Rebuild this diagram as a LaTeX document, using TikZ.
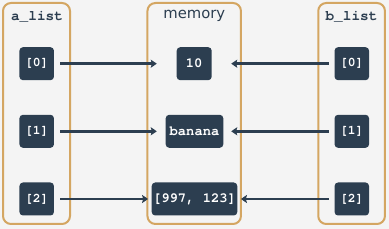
\documentclass[tikz,border=0pt]{standalone}
\usepackage{fontspec}
\setmonofont{TeX Gyre Cursor}
\newfontfamily\labelsans{DejaVu Sans}
\usetikzlibrary{arrows.meta}
\definecolor{bgc}{HTML}{F4F4F4}
\definecolor{slate}{HTML}{2C3E50}
\definecolor{tan}{HTML}{D4A662}
\tikzset{
  frame/.style={draw=tan, line width=2pt, rounded corners=8pt, fill=bgc},
  cell/.style={fill=slate, rounded corners=3.5pt, text=white, font=\ttfamily\bfseries\fontsize{13}{13}\selectfont, minimum height=33pt, inner sep=0pt},
  mcell/.style={cell, font=\ttfamily\bfseries\fontsize{13.8}{13.8}\selectfont},
  arr/.style={draw=slate, line width=2.7pt, -{Stealth[length=6pt,width=8pt,inset=1pt]}},
  lbl/.style={text=slate, font=\ttfamily\bfseries\fontsize{14.4}{14.4}\selectfont},
}
\begin{document}
\begin{tikzpicture}[x=1pt,y=-1pt]
\fill[bgc] (0,0) rectangle (389,229);
\useasboundingbox (0,0) rectangle (389,229);
% frames
\node[frame, minimum width=67pt, minimum height=221pt, inner sep=0pt] (fa) at (36.5,113.5) {};
\node[frame, minimum width=93.5pt, minimum height=221pt, inner sep=0pt] (fm) at (194.2,113.5) {};
\node[frame, minimum width=66.7pt, minimum height=221pt, inner sep=0pt] (fb) at (351.6,113.5) {};
\node[lbl] (la) at (37,17) {a\_list};
\node[lbl] (lb) at (351.5,17) {b\_list};
\node[text=slate, font=\labelsans\fontsize{14.8}{14.8}\selectfont] (lm) at (194.3,15.5) {memory};
% a cells
\node[cell, minimum width=34.5pt] (a0) at (36.7,63.7) {[0]};
\node[cell, minimum width=34.5pt] (a1) at (36.7,131.3) {[1]};
\node[cell, minimum width=34.5pt] (a2) at (36.7,199) {[2]};
% b cells
\node[cell, minimum width=34.5pt] (b0) at (351.8,63.7) {[0]};
\node[cell, minimum width=34.5pt] (b1) at (351.8,131.3) {[1]};
\node[cell, minimum width=34.5pt] (b2) at (351.8,199) {[2]};
% memory cells
\node[mcell, minimum width=35pt] (m0) at (194.2,63.7) {10};
\node[mcell, minimum width=57.6pt] (m1) at (194.5,131.3) {banana};
\node[mcell, minimum width=85.6pt] (m2) at (194.5,199) {[997, 123]};
% arrows
\draw[arr, shorten <=6pt, shorten >=19.7pt] (a0) -- (m0);
\draw[arr, shorten <=6pt, shorten >=8.7pt] (a1) -- (m1);
\draw[arr, shorten <=6pt, shorten >=3.4pt] (a2) -- (m2);
\draw[arr, shorten <=5.7pt, shorten >=19.3pt] (b0) -- (m0);
\draw[arr, shorten <=5.7pt, shorten >=7.7pt] (b1) -- (m1);
\draw[arr, shorten <=5.7pt, shorten >=3.4pt] (b2) -- (m2);
\end{tikzpicture}
\end{document}
